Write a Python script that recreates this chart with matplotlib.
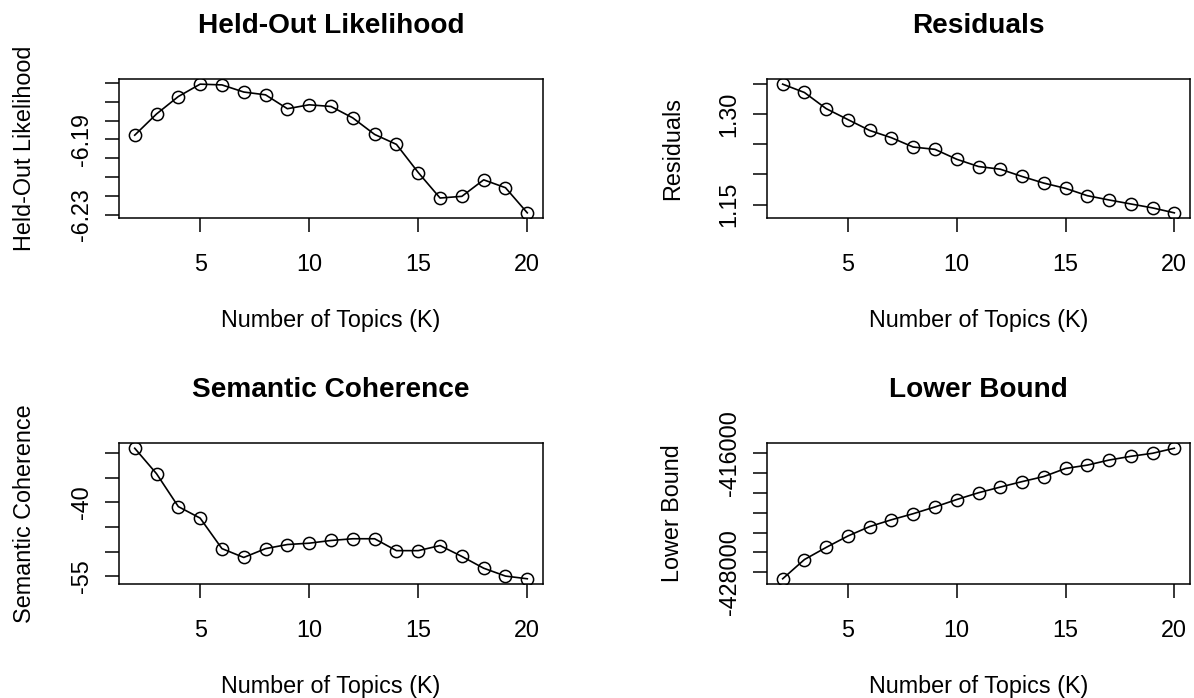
import numpy as np
import matplotlib
matplotlib.use("Agg")
import matplotlib.pyplot as plt

plt.rcParams['font.family'] = ['Liberation Sans', 'DejaVu Sans']

# number of topics tried
K = [2, 3, 4, 5, 6, 7, 8, 9, 10, 11, 12, 13, 14, 15, 16, 17, 18, 19, 20]

heldout = [-6.1877, -6.1764, -6.1671, -6.1605, -6.1609, -6.1647, -6.1662, -6.1736,
           -6.1715, -6.1724, -6.1785, -6.1873, -6.1926, -6.2076, -6.2212, -6.2203,
           -6.2115, -6.2157, -6.2291]
residuals = [1.3492, 1.3354, 1.3087, 1.2906, 1.2726, 1.2606, 1.2452, 1.2414, 1.2250,
             1.2130, 1.2086, 1.1966, 1.1856, 1.1769, 1.1648, 1.1577, 1.1511, 1.1446,
             1.1364]
semcoh = [-29.04, -34.2, -40.87, -43.2, -49.38, -51.17, -49.38, -48.55, -48.28,
          -47.73, -47.38, -47.38, -49.79, -49.79, -48.76, -50.96, -53.35, -54.94,
          -55.49]
bound = [-428641, -426708, -425488, -424339, -423393, -422712, -422101, -421420,
         -420678, -419996, -419427, -418878, -418369, -417555, -417220, -416711,
         -416335, -416030, -415522]

xticks = [5, 10, 15, 20]
heldout_ticks = [-6.23, -6.22, -6.21, -6.20, -6.19, -6.18, -6.17, -6.16]
heldout_labels = ['-6.23', '', '', '', '-6.19', '', '', '']
resid_ticks = [1.15, 1.20, 1.25, 1.30, 1.35]
resid_labels = ['1.15', '', '', '1.30', '']
semcoh_ticks = [-55, -50, -45, -40, -35, -30]
semcoh_labels = ['-55', '', '', '-40', '', '']
bound_ticks = [-428000, -426000, -424000, -422000, -420000, -418000, -416000]
bound_labels = ['-428000', '', '', '', '', '', '-416000']

W, H = 1194, 698
fig = plt.figure(figsize=(W / 100, H / 100), dpi=100)


def box(l, t, r, b):
    return [l / W, 1 - b / H, (r - l) / W, (b - t) / H]


panels = [
    (box(119, 79, 543, 218), heldout, 'Held-Out Likelihood', heldout_ticks, heldout_labels),
    (box(767, 79, 1190, 218), residuals, 'Residuals', resid_ticks, resid_labels),
    (box(119, 443, 543, 584), semcoh, 'Semantic Coherence', semcoh_ticks, semcoh_labels),
    (box(767, 443, 1190, 584), bound, 'Lower Bound', bound_ticks, bound_labels),
]

fs = 16.8
for rect, vals, name, yt, yl in panels:
    ax = fig.add_axes(rect)
    ax.plot(K, vals, color='black', lw=1.2, marker='o', ms=8.8,
            mfc='none', mec='black', mew=1.1)
    ax.margins(x=0.04, y=0.04)
    ax.set_xticks(xticks)
    ax.set_xticklabels([str(v) for v in xticks], fontsize=fs)
    ax.set_yticks(yt)
    ax.set_yticklabels(yl, fontsize=fs, rotation=90, va='center')
    ax.tick_params(length=10, width=1.1, color='black', direction='out')
    ax.tick_params(axis='x', pad=15)
    ax.tick_params(axis='y', pad=9)
    for s in ax.spines.values():
        s.set_linewidth(1.1)
    ax.set_title(name, fontsize=20.2, fontweight='bold', pad=33)
    ax.set_xlabel('Number of Topics (K)', fontsize=fs, labelpad=24)
    ax.set_ylabel(name, fontsize=fs, labelpad=24)

fig.savefig('out.png', dpi=100)
